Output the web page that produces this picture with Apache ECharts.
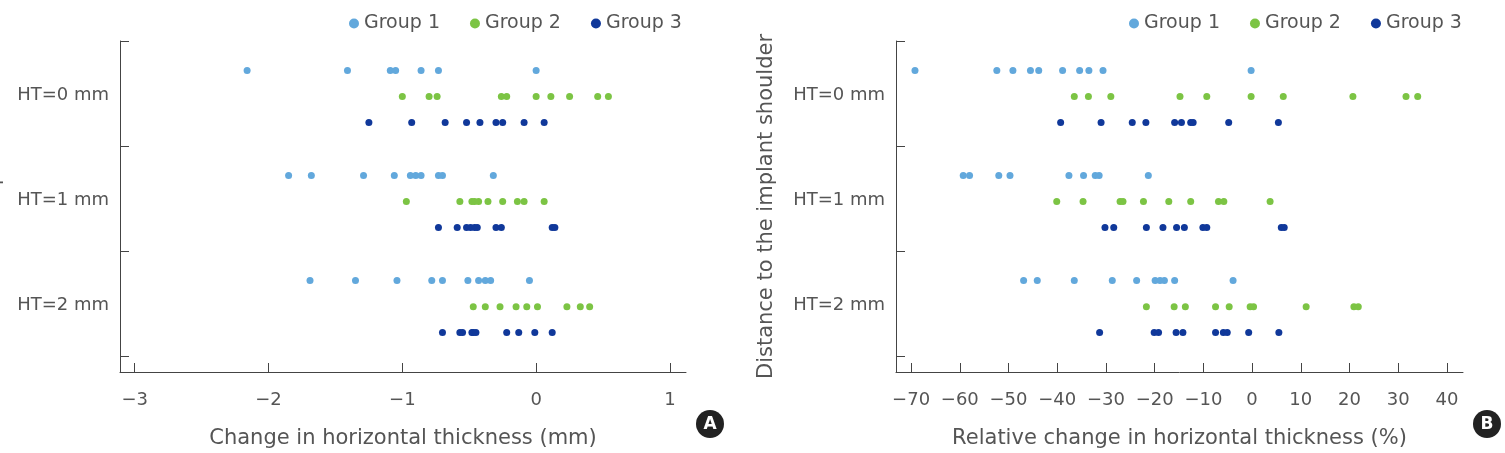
<!DOCTYPE html>
<html>
<head>
<meta charset="utf-8">
<script src="https://cdn.jsdelivr.net/npm/echarts@6/dist/echarts.min.js"></script>
<style>
html,body{margin:0;padding:0;background:#fff;}
#chart{width:1505px;height:453px;}
</style>
</head>
<body>
<div id="chart"></div>
<script>
// ---------- data ----------
const categories = ['HT=0 mm', 'HT=1 mm', 'HT=2 mm'];
const groups = ['Group 1', 'Group 2', 'Group 3'];
const yTickValues = [0, 1, 2, 3];
const xTicksA = [-3, -2, -1, 0, 1];
const xTicksB = [-70, -60, -50, -40, -30, -20, -10, 0, 10, 20, 30, 40];

// Panel A: change in horizontal thickness (mm), per HT level
const absGroup1 = [
  [-2.16, -1.41, -1.09, -1.05, -0.86, -0.73, 0.0],
  [-1.85, -1.68, -1.29, -1.06, -0.94, -0.90, -0.86, -0.73, -0.70, -0.32],
  [-1.69, -1.35, -1.04, -0.78, -0.70, -0.51, -0.43, -0.38, -0.34, -0.05]
];
const absGroup2 = [
  [-1.0, -0.80, -0.74, -0.26, -0.22, 0.0, 0.11, 0.25, 0.46, 0.54],
  [-0.97, -0.57, -0.48, -0.46, -0.43, -0.36, -0.25, -0.14, -0.09, 0.06],
  [-0.47, -0.38, -0.27, -0.15, -0.07, 0.01, 0.23, 0.33, 0.40]
];
const absGroup3 = [
  [-1.25, -0.93, -0.68, -0.52, -0.42, -0.30, -0.25, -0.09, 0.06],
  [-0.73, -0.59, -0.52, -0.49, -0.46, -0.44, -0.30, -0.26, 0.12, 0.14],
  [-0.70, -0.57, -0.55, -0.48, -0.47, -0.45, -0.22, -0.13, -0.01, 0.12]
];

// Panel B: relative change in horizontal thickness (%)
const relGroup1 = [
  [-69.2, -52.4, -49.1, -45.5, -43.8, -38.9, -35.4, -33.5, -30.6, -0.2],
  [-59.3, -58.0, -52.0, -49.7, -37.6, -34.6, -32.2, -31.4, -21.3],
  [-46.9, -44.1, -36.5, -28.7, -23.7, -19.9, -18.9, -18.0, -15.9, -3.9]
];
const relGroup2 = [
  [-36.5, -33.6, -29.0, -14.8, -9.3, -0.2, 6.4, 20.7, 31.6, 34.0],
  [-40.1, -34.7, -27.1, -26.5, -22.3, -17.1, -12.6, -6.9, -5.8, 3.7],
  [-21.7, -16.0, -13.7, -7.5, -4.7, -0.4, 0.3, 11.1, 20.9, 21.8]
];
const relGroup3 = [
  [-39.3, -31.0, -24.6, -21.8, -15.9, -14.5, -12.6, -12.1, -4.8, 5.4],
  [-30.2, -28.4, -21.7, -18.3, -15.5, -13.9, -10.1, -9.3, 6.0, 6.6],
  [-31.3, -20.1, -19.2, -15.6, -14.2, -7.5, -5.9, -5.1, -0.7, 5.5]
];

// ---------- styling ----------
const colors = ['#62a8dc', '#7cc444', '#10389a'];
const groupOffset = [-0.22, 0.028, 0.275]; // vertical dodge within a category band
const textColor = '#555';
const axisColor = '#444';
const FONT = '"DejaVu Sans", sans-serif';

function fmtMinus(v) { return v < 0 ? '\u2212' + Math.abs(v) : String(v); }

function buildData(arr, g) {
  const out = [];
  arr.forEach((vals, ci) => vals.forEach(v => out.push([v, ci + 0.5 + groupOffset[g]])));
  return out;
}

function yAxis(gridIndex, nameGap) {
  return {
    gridIndex, type: 'value', inverse: true, min: 0, max: 3.15,
    name: 'Distance to the implant shoulder', nameLocation: 'middle', nameGap,
    nameTextStyle: { color: textColor, fontSize: 21, fontFamily: FONT },
    axisLine: { show: true, onZero: false, lineStyle: { color: axisColor, width: 1 } },
    axisTick: { show: true, inside: true, length: 9, customValues: yTickValues, lineStyle: { color: axisColor } },
    axisLabel: { customValues: [0.52, 1.52, 2.52], formatter: v => categories[Math.floor(v)],
      color: textColor, fontSize: 18, fontFamily: FONT, margin: 11 },
    splitLine: { show: false }
  };
}

function xAxis(gridIndex, min, max, ticks, name) {
  return {
    gridIndex, type: 'value', min, max,
    name, nameLocation: 'middle', nameGap: 56,
    nameTextStyle: { color: textColor, fontSize: 21, fontFamily: FONT },
    axisLine: { show: true, onZero: false, lineStyle: { color: axisColor, width: 1 } },
    axisTick: { show: true, inside: true, length: 9, customValues: ticks, lineStyle: { color: axisColor } },
    axisLabel: { customValues: ticks, formatter: fmtMinus, color: textColor, fontSize: 18, fontFamily: FONT, margin: 19 },
    splitLine: { show: false }
  };
}

const seriesA = [absGroup1, absGroup2, absGroup3];
const seriesB = [relGroup1, relGroup2, relGroup3];
const series = [];
[seriesA, seriesB].forEach((set, p) => {
  set.forEach((arr, g) => {
    series.push({
      name: groups[g], type: 'scatter', xAxisIndex: p, yAxisIndex: p,
      symbol: 'circle', symbolSize: 7, itemStyle: { color: colors[g], opacity: 1 },
      data: buildData(arr, g), silent: true
    });
  });
});

function badge(cx, cy, letter) {
  return {
    type: 'group', x: cx, y: cy, children: [
      { type: 'circle', shape: { cx: 0, cy: 0, r: 14 }, style: { fill: '#222' } },
      { type: 'text', style: { text: letter, x: 0, y: 1, align: 'center', verticalAlign: 'middle',
        fill: '#fff', font: 'bold 17px "DejaVu Sans", sans-serif' } }
    ]
  };
}

const legendCommon = {
  data: groups, icon: 'circle', itemWidth: 10, itemHeight: 10, itemGap: 30, top: 9,
  textStyle: { color: textColor, fontSize: 19, fontFamily: FONT }
};

const option = {
  animation: false,
  backgroundColor: '#fff',
  color: colors,
  grid: [
    { left: 120, top: 41, width: 566, height: 331, outerBoundsMode: 'none', containLabel: false },
    { left: 896, top: 41, width: 567, height: 331, outerBoundsMode: 'none', containLabel: false }
  ],
  legend: [
    Object.assign({}, legendCommon, { left: 344 }),
    Object.assign({}, legendCommon, { left: 1124 })
  ],
  xAxis: [
    xAxis(0, -3.11, 1.12, xTicksA, 'Change in horizontal thickness (mm)'),
    xAxis(1, -73.1, 43.3, xTicksB, 'Relative change in horizontal thickness (%)')
  ],
  yAxis: [yAxis(0, 116), yAxis(1, 119)],
  series,
  graphic: [badge(710, 424, 'A'), badge(1487, 424, 'B')]
};

echarts.init(document.getElementById('chart'), null, { renderer: 'canvas' }).setOption(option);
</script>
</body>
</html>
